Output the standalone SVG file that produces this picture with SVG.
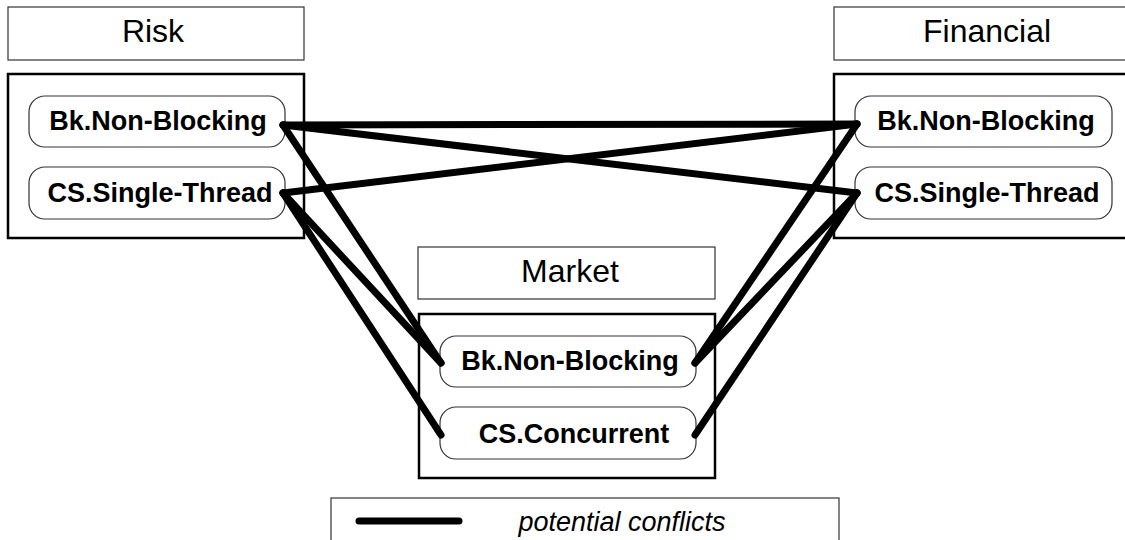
<svg xmlns="http://www.w3.org/2000/svg" width="1125" height="540" viewBox="0 0 1125 540">
  <style>
    .title { fill: #fff; stroke: #333; stroke-width: 1.2; }
    .container { fill: #fff; stroke: #000; stroke-width: 2.5; }
    .pill { fill: #fff; stroke: #333; stroke-width: 1.2; }
    .ttxt { font-family: "Liberation Sans", Arial, sans-serif; font-size: 32px; fill: #000; text-anchor: middle; }
    .ntxt { font-family: "Liberation Sans", Arial, sans-serif; font-size: 27px; font-weight: bold; fill: #000; text-anchor: middle; }
    .conn { stroke: #000; stroke-width: 7; stroke-linecap: round; fill: none; }
    .legtxt { font-family: "Liberation Sans", Arial, sans-serif; font-size: 27px; font-style: italic; fill: #000; text-anchor: middle; }
  </style>
  <rect width="1125" height="540" fill="#fff"/>

  <!-- Risk -->
  <g id="risk">
    <rect class="title" x="8" y="7" width="296" height="53"/>
    <text class="ttxt" x="153" y="42">Risk</text>
    <rect class="container" x="8" y="74" width="296" height="164"/>
    <g id="risk-bk">
      <rect class="pill" x="29" y="96" width="256" height="51" rx="16"/>
      <text class="ntxt" x="158" y="130">Bk.Non-Blocking</text>
    </g>
    <g id="risk-cs">
      <rect class="pill" x="29" y="167" width="256" height="52" rx="16"/>
      <text class="ntxt" x="160" y="202">CS.Single-Thread</text>
    </g>
  </g>

  <!-- Financial -->
  <g id="financial">
    <rect class="title" x="834" y="7" width="296" height="53"/>
    <text class="ttxt" x="987" y="42">Financial</text>
    <rect class="container" x="834" y="74" width="296" height="164"/>
    <g id="fin-bk">
      <rect class="pill" x="855" y="96" width="257" height="51" rx="16"/>
      <text class="ntxt" x="986" y="130">Bk.Non-Blocking</text>
    </g>
    <g id="fin-cs">
      <rect class="pill" x="855" y="167" width="257" height="52" rx="16"/>
      <text class="ntxt" x="987" y="202">CS.Single-Thread</text>
    </g>
  </g>

  <!-- Market -->
  <g id="market">
    <rect class="title" x="418" y="247" width="297" height="52"/>
    <text class="ttxt" x="570" y="282">Market</text>
    <rect class="container" x="419" y="314" width="296" height="164"/>
    <g id="mkt-bk">
      <rect class="pill" x="440" y="336" width="256" height="51" rx="16"/>
      <text class="ntxt" x="570" y="370">Bk.Non-Blocking</text>
    </g>
    <g id="mkt-cs">
      <rect class="pill" x="440" y="407" width="256" height="52" rx="16"/>
      <text class="ntxt" x="574" y="443">CS.Concurrent</text>
    </g>
  </g>

  <!-- Conflict links -->
  <g id="connectors">
    <line class="conn" x1="283" y1="125" x2="857" y2="124"/>
    <line class="conn" x1="283" y1="125" x2="857" y2="193"/>
    <line class="conn" x1="283" y1="193" x2="857" y2="124"/>
    <line class="conn" x1="283" y1="125" x2="441" y2="363"/>
    <line class="conn" x1="283" y1="193" x2="441" y2="363"/>
    <line class="conn" x1="283" y1="193" x2="441" y2="435"/>
    <line class="conn" x1="857" y1="124" x2="695" y2="363"/>
    <line class="conn" x1="857" y1="193" x2="695" y2="363"/>
    <line class="conn" x1="857" y1="193" x2="695" y2="435"/>
  </g>

  <!-- Legend -->
  <g id="legend">
    <rect class="title" x="331" y="498" width="508" height="46"/>
    <line class="conn" x1="359" y1="521" x2="459" y2="521"/>
    <text class="legtxt" x="622" y="531">potential conflicts</text>
  </g>
</svg>
